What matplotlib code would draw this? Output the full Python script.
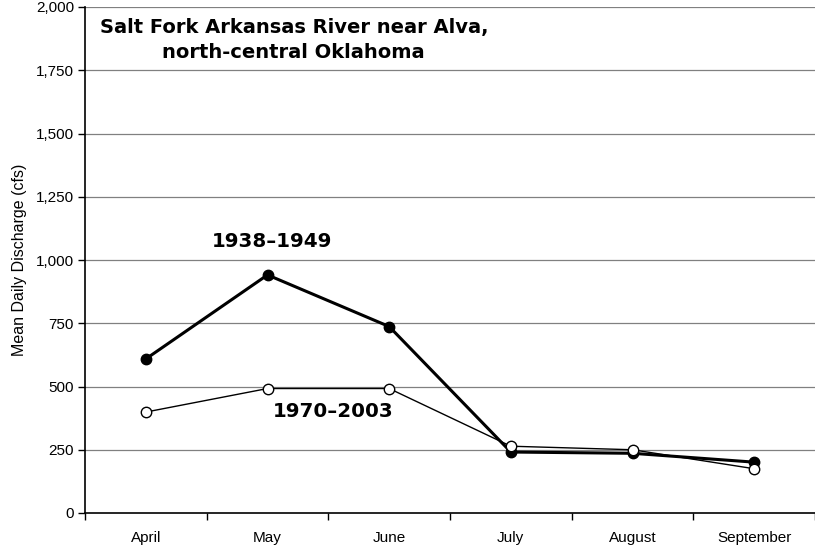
import numpy as np
import matplotlib.pyplot as plt

# Datos
meses = ['April', 'May', 'June', 'July', 'August', 'September']
q_1938_1949 = [609, 941, 737, 241, 236, 201]
q_1970_2003 = [399, 492, 492, 264, 250, 175]

x = np.arange(len(meses))

fig = plt.figure(figsize=(8.15, 5.47), dpi=100)
ax = fig.add_axes([85/815, 1-513/547, 730/815, 506/547])

# Grilla horizontal
for v in range(250, 2001, 250):
    ax.axhline(v, color='#808080', lw=0.9, zorder=0)

ax.plot(x, q_1970_2003, '-o', color='black', lw=1.0, mfc='white', mec='black',
        ms=7.5, mew=1.0, zorder=3)
ax.plot(x, q_1938_1949, '-o', color='black', lw=2.2, mfc='black', mec='black',
        ms=7.5, zorder=2)

ax.set_xlim(-0.5, 5.5)
ax.set_ylim(0, 2000)
ax.set_xticks(x)
ax.set_xticklabels(meses, fontsize=11, family='Liberation Sans')
ax.set_xticks(np.arange(-0.5, 5.6, 1), minor=True)
ax.tick_params(axis='x', which='major', length=0, pad=13)
ax.tick_params(axis='x', which='minor', length=5, direction='out', width=1)
ax.set_yticks(range(0, 2001, 250))
ax.set_yticklabels([f'{v:,}' for v in range(0, 2001, 250)], fontsize=11,
                   family='Liberation Sans')
ax.tick_params(axis='y', length=5, width=1, direction='out', pad=3)
ax.spines['top'].set_visible(False)
ax.spines['right'].set_visible(False)
ax.spines['left'].set_linewidth(1.2)
ax.spines['bottom'].set_linewidth(1.2)

ax.set_ylabel('Mean Daily Discharge (cfs)', fontsize=11.5, family='Liberation Sans',
              labelpad=6)

ax.text(0.286, 0.979, 'Salt Fork Arkansas River near Alva,\nnorth-central Oklahoma',
        transform=ax.transAxes, ha='center', va='top', fontsize=14,
        fontweight='bold', linespacing=1.45)
ax.text(1.036, 1075, '1938\u20131949', ha='center', va='center', fontsize=14.3,
        fontweight='bold')
ax.text(1.537, 403, '1970\u20132003', ha='center', va='center', fontsize=14.3,
        fontweight='bold')

fig.savefig('out.png', dpi=100)
